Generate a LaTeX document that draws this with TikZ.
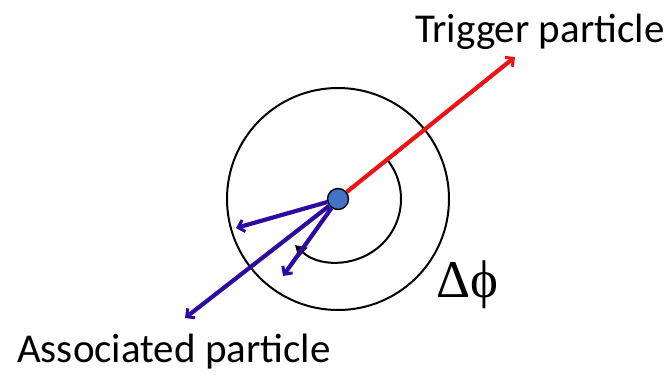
\documentclass[tikz,border=0pt]{standalone}
\usepackage{fontspec}
\setmainfont{Carlito}
\newfontfamily\serifg{Liberation Serif}
\usetikzlibrary{arrows.meta}
\definecolor{trig}{RGB}{235,20,20}
\definecolor{assoc}{RGB}{45,10,160}
\definecolor{dotblue}{RGB}{68,114,196}
\tikzset{
  ring/.style={draw=black, line width=2pt},
  barb/.style={-{Straight Barb[length=6pt,width=12pt,line width=3pt]}},
  trigline/.style={draw=trig, line width=4.2pt, barb},
  assocline/.style={draw=assoc, line width=4.2pt, barb},
  lbl/.style={font=\fontsize{41}{41}\selectfont, inner sep=0pt},
}
\begin{document}
\begin{tikzpicture}[x=1pt,y=1pt]
\useasboundingbox (0,0) rectangle (670,-378);
% outer ring
\draw[ring] (338,-199) circle (111);
% inner arc with arrow
\draw[ring, -{Triangle[length=11pt,width=13pt]}] (338,-199) ++(38.7:63) arc[start angle=38.7, end angle=-133, radius=63];
% coordinates
\coordinate (t) at (515,-57);
\coordinate (a1) at (236,-228);
\coordinate (a2) at (185,-318);
\coordinate (a3) at (283,-276);
\node[circle, minimum size=22pt, inner sep=0pt] (c) at (338,-199) {};
\draw[trigline] (c) -- (t);
\draw[assocline] (c) -- (a1);
\draw[assocline] (c) -- (a2);
\draw[assocline] (c) -- (a3);
\node[circle, draw=black, line width=1.4pt, fill=dotblue, minimum size=21pt, inner sep=0pt] at (c) {};
% labels
\node[lbl, anchor=base west] (tl) at (415,-42) {Trigger particle};
\node[lbl, anchor=base west] (al) at (17,-362) {Associated particle};
\node[inner sep=0pt, anchor=base west, font=\serifg\fontsize{53}{53}\selectfont] (dphi) at (436,-297) {Δϕ};
\end{tikzpicture}
\end{document}
